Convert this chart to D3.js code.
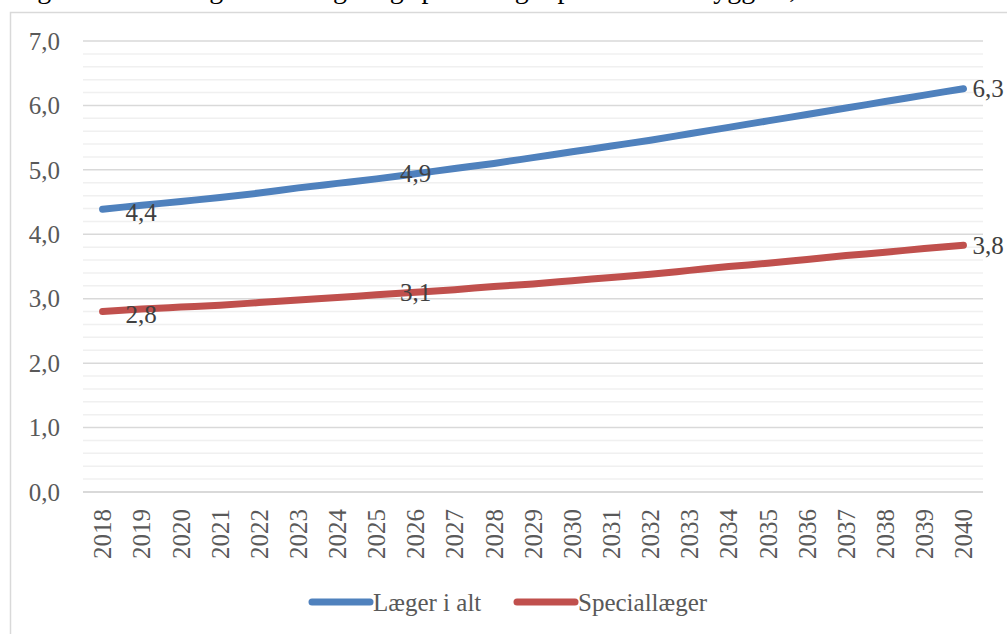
<!DOCTYPE html>
<html>
<head>
<meta charset="utf-8">
<script src="https://cdn.jsdelivr.net/npm/d3@7"></script>
<style>
  body { margin: 0; background: #fff; }
  svg { display: block; font-family: "Liberation Serif", "Times New Roman", serif; }
</style>
</head>
<body>
<svg id="chart" width="1007" height="634"></svg>
<script>
// Data
const years = ["2018","2019","2020","2021","2022","2023","2024","2025","2026","2027","2028",
  "2029","2030","2031","2032","2033","2034","2035","2036","2037","2038","2039","2040"];
const laegerIAlt = [4.39,4.45,4.51,4.57,4.64,4.72,4.79,4.86,4.94,5.02,5.10,5.19,5.28,
  5.37,5.46,5.56,5.66,5.76,5.86,5.96,6.06,6.16,6.26];
const speciallaeger = [2.80,2.84,2.87,2.90,2.94,2.98,3.02,3.06,3.10,3.14,3.19,3.23,3.28,
  3.33,3.38,3.44,3.50,3.55,3.61,3.67,3.72,3.78,3.83];
const seriesNames = ["Læger i alt", "Speciallæger"];
const yTicks = [0, 1, 2, 3, 4, 5, 6, 7];
const labelYears = ["2018", "2026", "2040"];
const title = "Figur 3. Udvikling i antal læger og speciallæger pr. 1.000 indbyggere, 2018-2040";

const colors = ["#4f81bd", "#c0504d"];
const svg = d3.select("#chart");

// title line above the chart box, cut off by the top edge as in the source
svg.append("text")
  .attr("x", 14)
  .attr("y", -2)
  .style("font-size", "28px")
  .attr("fill", "#000")
  .text(title);

// chart box
svg.append("rect")
  .attr("x", 10.5).attr("y", 12.5)
  .attr("width", 1100).attr("height", 700)
  .attr("fill", "none")
  .attr("stroke", "#d9d9d9")
  .attr("stroke-width", 1.5);

const plotLeft = 83, plotRight = 983, plotTop = 41, plotBottom = 492;

const x = d3.scalePoint().domain(years).range([plotLeft, plotRight]).padding(0.5);
const y = d3.scaleLinear().domain([0, 7]).range([plotBottom, plotTop]);

// minor gridlines every 0.2
const minor = d3.range(0, 7.01, 0.2).filter(v => Math.abs(v - Math.round(v)) > 0.01);
svg.append("g").selectAll("line")
  .data(minor)
  .enter().append("line")
  .attr("x1", plotLeft).attr("x2", plotRight)
  .attr("y1", d => y(d)).attr("y2", d => y(d))
  .attr("stroke", "#f0f0f0")
  .attr("stroke-width", 1.5);

// major gridlines
svg.append("g").selectAll("line")
  .data(yTicks)
  .enter().append("line")
  .attr("x1", plotLeft).attr("x2", plotRight)
  .attr("y1", d => y(d)).attr("y2", d => y(d))
  .attr("stroke", "#d9d9d9")
  .attr("stroke-width", d => d === 0 ? 2 : 1.5);

// y tick labels
svg.append("g").selectAll("text")
  .data(yTicks)
  .enter().append("text")
  .attr("x", 60)
  .attr("y", d => y(d))
  .attr("dy", "0.35em")
  .attr("text-anchor", "end")
  .attr("fill", "#595959")
  .style("font-size", "25px")
  .text(d => d3.format(".1f")(d).replace(".", ","));

// x tick labels, rotated
svg.append("g").selectAll("text")
  .data(years)
  .enter().append("text")
  .attr("transform", d => `translate(${x(d)},509) rotate(-90)`)
  .attr("dy", "0.35em")
  .attr("text-anchor", "end")
  .attr("fill", "#595959")
  .style("font-size", "25px")
  .text(d => d);

// lines
const series = [laegerIAlt, speciallaeger];
const line = d3.line()
  .x((d, i) => x(years[i]))
  .y(d => y(d))
  .curve(d3.curveMonotoneX);

svg.append("g").selectAll("path")
  .data(series)
  .enter().append("path")
  .attr("d", line)
  .attr("fill", "none")
  .attr("stroke", (d, i) => colors[i])
  .attr("stroke-width", 7)
  .attr("stroke-linecap", "round");

// data labels
series.forEach(values => {
  labelYears.forEach((yr, k) => {
    const i = years.indexOf(yr);
    const px = x(yr), py = y(values[i]);
    let lx = px, anchor = "middle", ly = py;
    if (k === 0) { lx = px + 23; anchor = "start"; ly = py + 3; }
    if (k === 2) { lx = px + 9; anchor = "start"; }
    svg.append("text")
      .attr("x", lx)
      .attr("y", ly)
      .attr("dy", "0.35em")
      .attr("text-anchor", anchor)
      .attr("fill", "#404040")
      .style("font-size", "25px")
      .text(d3.format(".1f")(values[i]).replace(".", ","));
  });
});

// legend
const legendX = [312, 517];
const legend = svg.append("g").selectAll("g")
  .data(seriesNames)
  .enter().append("g")
  .attr("transform", (d, i) => `translate(${legendX[i]},602)`);
legend.append("line")
  .attr("x1", 0).attr("x2", 58)
  .attr("stroke", (d, i) => colors[i])
  .attr("stroke-width", 7)
  .attr("stroke-linecap", "round");
legend.append("text")
  .attr("x", 61)
  .attr("dy", "0.35em")
  .attr("fill", "#595959")
  .style("font-size", "25px")
  .text(d => d);
</script>
</body>
</html>
